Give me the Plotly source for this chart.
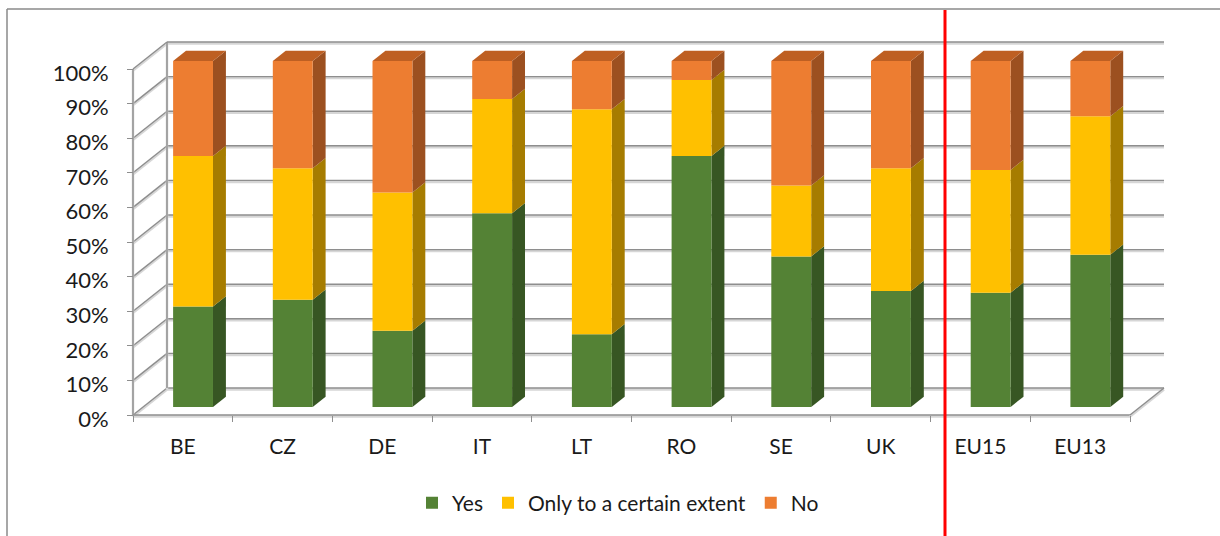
import plotly.graph_objects as go

# Survey answers per country / group (share of respondents, %)
categories = ["BE", "CZ", "DE", "IT", "LT", "RO", "SE", "UK", "EU15", "EU13"]
yes = [29, 31, 22, 56, 21, 72.5, 43.5, 33.5, 33, 44]
partly = [43.5, 38, 40, 33, 65, 22, 20.5, 35.5, 35.5, 40]
no = [27.5, 31, 38, 11, 14, 5.5, 36, 31, 31.5, 16]

series_names = ["Yes", "Only to a certain extent", "No"]
series_values = [yes, partly, no]
y_ticks = [0, 10, 20, 30, 40, 50, 60, 70, 80, 90, 100]
y_tick_text = [f"{v}%" for v in y_ticks]

# Colours: front face, side face, top face
front_col = ["#548235", "#FFC000", "#ED7D31"]
side_col = ["#375623", "#A67C00", "#9C5020"]
top_col = ["#3F6428", "#C09000", "#BE5F22"]

# Page / projection geometry
W, H = 1220, 536
CAT_PX = 99.7          # pixels per category
FRONT_X = 133          # pixel x of the front-left corner of the floor
FLOOR_Y = 415          # pixel y of the front floor edge (0 %)
PCT_PX = 3.46          # pixels per percentage point
DX = 0.341             # full depth, horizontal (category units)
DY = 7.8               # full depth, vertical (percentage units)
BAR_FRONT, BAR_BACK = 0.30, 0.68   # bar depth span (fraction of full depth)
BAR_W = 0.4

x_range = [-0.5 - FRONT_X / CAT_PX, -0.5 + (W - FRONT_X) / CAT_PX]
y_range = [-(H - FLOOR_Y) / PCT_PX, FLOOR_Y / PCT_PX]
n = len(categories)
x_left, x_right = -0.5, n - 0.5

shapes = []


def grid_line(x0, y0, x1, y1):
    off = 1.5 / PCT_PX
    shapes.append(dict(type="line", xref="x", yref="y", x0=x0, y0=y0 - off,
                       x1=x1, y1=y1 - off, layer="below",
                       line=dict(color="#d6d6d6", width=2.5)))
    shapes.append(dict(type="line", xref="x", yref="y", x0=x0, y0=y0,
                       x1=x1, y1=y1, layer="below",
                       line=dict(color="#8e8e8e", width=1.4)))


# back wall gridlines and left wall diagonals
for p in y_ticks:
    grid_line(x_left + DX, p + DY, x_right + DX, p + DY)
    grid_line(x_left, p, x_left + DX, p + DY)
# wall edges and floor
grid_line(x_left, 0, x_left, 100)
grid_line(x_left + DX, DY, x_left + DX, 100 + DY)
grid_line(x_left, 0, x_right, 0)
grid_line(x_right, 0, x_right + DX, DY)


def poly(pts, color):
    path = "M " + " L ".join(f"{x:.4f},{y:.4f}" for x, y in pts) + " Z"
    shapes.append(dict(type="path", xref="x", yref="y", path=path,
                       fillcolor=color, line=dict(width=0), layer="below"))


base0 = BAR_FRONT * DY
bar_offset = BAR_FRONT * DX - BAR_W / 2
ddx = (BAR_BACK - BAR_FRONT) * DX
ddy = (BAR_BACK - BAR_FRONT) * DY

fig = go.Figure()
bases = [[base0] * n]
for s in range(len(series_values)):
    prev = bases[-1]
    vals = series_values[s]
    fig.add_trace(go.Bar(
        x=categories, y=vals, base=prev, name=series_names[s],
        width=BAR_W, offset=bar_offset,
        marker=dict(color=front_col[s], line=dict(width=0)),
    ))
    for i in range(n):
        xr = i + bar_offset + BAR_W
        y0, y1 = prev[i], prev[i] + vals[i]
        poly([(xr, y0), (xr + ddx, y0 + ddy), (xr + ddx, y1 + ddy), (xr, y1)],
             side_col[s])
    bases.append([prev[i] + vals[i] for i in range(n)])

# top faces of the stacks
for i in range(n):
    xl = i + bar_offset
    xr = xl + BAR_W
    yt = bases[-1][i]
    poly([(xl, yt), (xl + ddx, yt + ddy), (xr + ddx, yt + ddy), (xr, yt)],
         top_col[-1])

# chart frame and the EU divider
shapes.append(dict(type="line", xref="paper", yref="paper",
                   x0=7 / W, x1=7 / W, y0=0, y1=1 - 9 / H,
                   line=dict(color="#8a8a8a", width=1.5)))
shapes.append(dict(type="line", xref="paper", yref="paper",
                   x0=7 / W, x1=1, y0=1 - 9 / H, y1=1 - 9 / H,
                   line=dict(color="#8a8a8a", width=1.5)))
shapes.append(dict(type="line", xref="paper", yref="paper",
                   x0=945 / W, x1=945 / W, y0=0, y1=1 - 10 / H,
                   line=dict(color="#FF0000", width=3), layer="above"))

font_family = "Lato, 'Open Sans', sans-serif"
fig.update_layout(
    width=W, height=H,
    margin=dict(l=0, r=0, t=0, b=0),
    paper_bgcolor="white", plot_bgcolor="rgba(0,0,0,0)",
    barmode="overlay",
    showlegend=True,
    font=dict(family=font_family, size=21, color="#1a1a1a"),
    legend=dict(orientation="h", x=0.5 + 8 / W, xanchor="center",
                y=(H - 503) / H, yanchor="middle",
                font=dict(size=21), traceorder="normal",
                itemwidth=30, bgcolor="rgba(0,0,0,0)"),
    xaxis=dict(type="category", categoryorder="array", categoryarray=categories,
               range=x_range, domain=[0, 1], anchor="free",
               position=(H - FLOOR_Y) / H,
               showgrid=False, zeroline=False, showline=False,
               ticks="outside", tickson="boundaries", ticklen=6,
               tickcolor="#8e8e8e", tickwidth=1.4,
               ticklabelstandoff=17, tickfont=dict(size=21)),
    yaxis=dict(range=y_range, domain=[0, 1], anchor="free",
               position=FRONT_X / W,
               tickvals=y_ticks, ticktext=y_tick_text,
               showgrid=False, zeroline=False, showline=False,
               ticks="outside", ticklen=6, tickcolor="#8e8e8e", tickwidth=1.4,
               ticklabelstandoff=14, ticklabelshift=4,
               tickfont=dict(size=22)),
    shapes=shapes,
)

fig.write_html("out.html")
